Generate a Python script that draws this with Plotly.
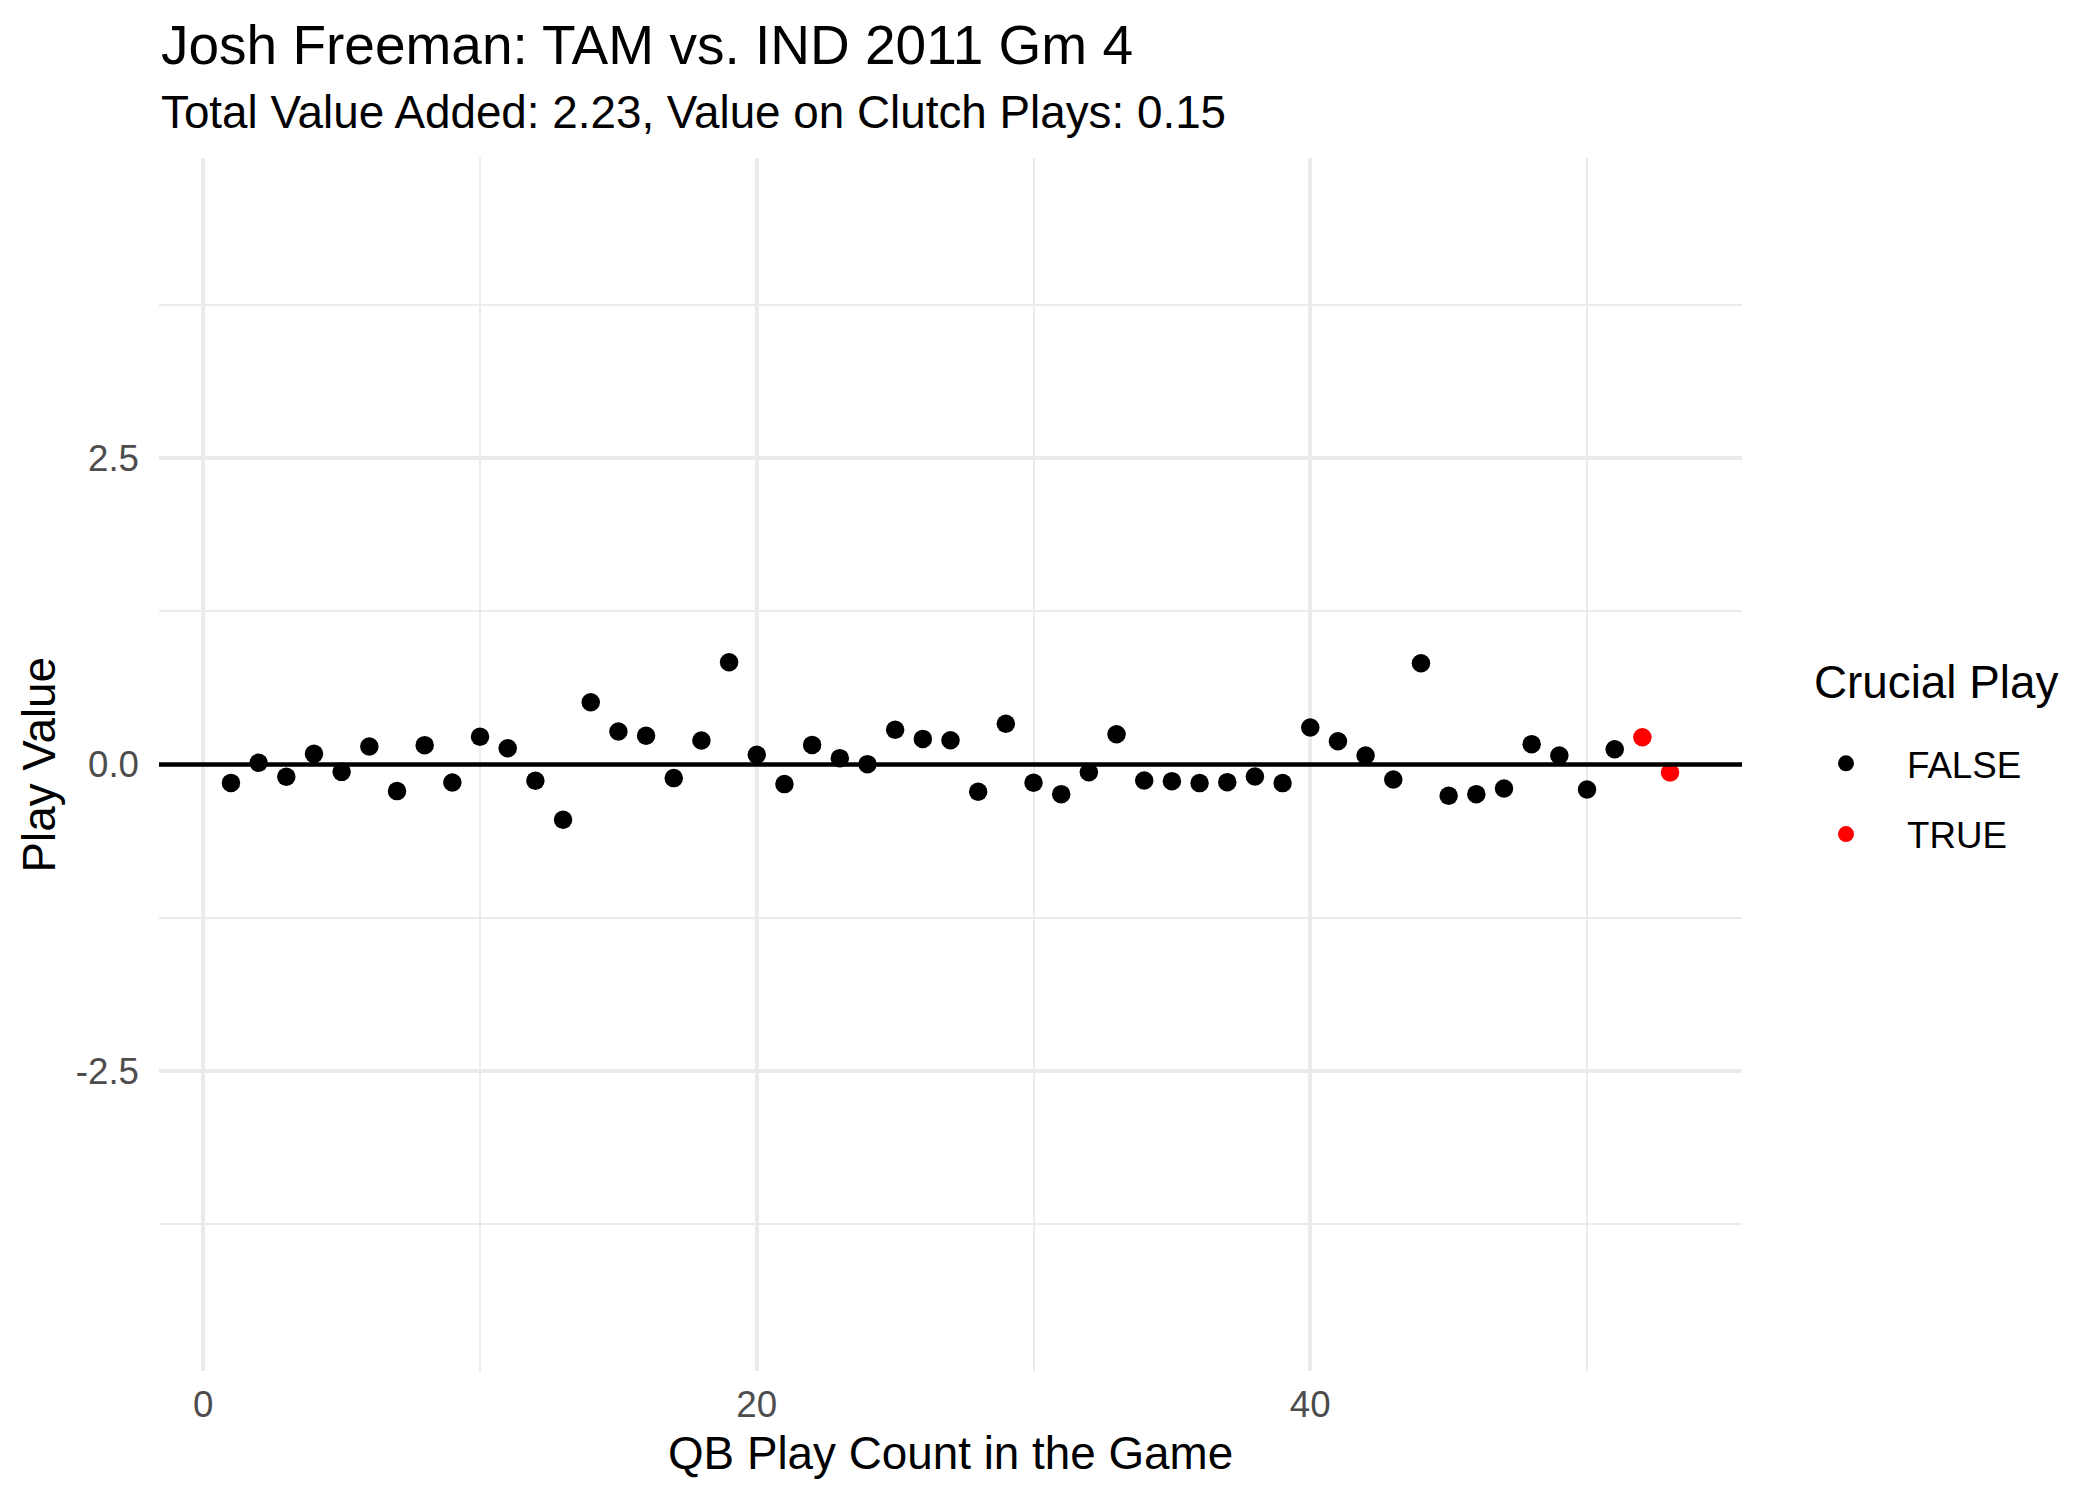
import plotly.graph_objects as go

play_count = list(range(1, 54))
play_value = [
    -0.15, 0.014, -0.10, 0.087, -0.06, 0.147, -0.217, 0.158, -0.147, 0.226,
    0.133, -0.133, -0.451, 0.508, 0.269, 0.234, -0.111, 0.196, 0.834, 0.079,
    -0.160, 0.160, 0.052, 0.003, 0.283, 0.209, 0.198, -0.223, 0.332, -0.149,
    -0.242, -0.063, 0.247, -0.130, -0.136, -0.152, -0.144, -0.098, -0.152, 0.302,
    0.190, 0.073, -0.122, 0.826, -0.255, -0.242, -0.196, 0.166, 0.073, -0.204,
    0.125, 0.223, -0.065,
]
crucial = [False] * 51 + [True, True]

y_tickvals = [-2.5, 0.0, 2.5]
y_ticktext = ["-2.5", "0.0", "2.5"]
x_tickvals = [0, 20, 40]
x_ticktext = ["0", "20", "40"]

title_text = "Josh Freeman: TAM vs. IND 2011 Gm 4"
subtitle_text = "Total Value Added: 2.23, Value on Clutch Plays: 0.15"
x_title = "QB Play Count in the Game"
y_title = "Play Value"
legend_title = "Crucial Play"
groups = [("FALSE", False, "#000000"), ("TRUE", True, "#FF0000")]

FONT = "Liberation Sans, Arial, sans-serif"
W, H = 2100, 1500
L, R, T, B = 159, 358, 158, 129
PW = W - L - R
PH = H - T - B

def py(p):
    return (H - B - p) / PH

def px(p):
    return (p - L) / PW

fig = go.Figure()
for name, flag, color in groups:
    xs = [x for x, c in zip(play_count, crucial) if c == flag]
    ys = [y for y, c in zip(play_value, crucial) if c == flag]
    fig.add_trace(go.Scatter(
        x=xs, y=ys, mode="markers", name=name, legendgroup=name,
        marker=dict(color=color, size=18.5, line=dict(width=0)),
    ))

fig.add_shape(type="line", xref="paper", x0=0, x1=1, yref="y", y0=0, y1=0,
              line=dict(color="black", width=4.7), layer="above")

fig.update_layout(
    width=W, height=H,
    margin=dict(l=L, r=R, t=T, b=B, pad=0),
    paper_bgcolor="white", plot_bgcolor="white",
    font=dict(family=FONT, color="black"),
    showlegend=True,
    legend=dict(
        font=dict(size=36.7, color="black"),
        x=px(1785), xanchor="left", y=py(733), yanchor="top",
        tracegroupgap=20, itemwidth=112,
        bgcolor="rgba(0,0,0,0)",
    ),
    xaxis=dict(
        range=[-1.6, 55.6], tickvals=x_tickvals, ticktext=x_ticktext,
        showgrid=True, gridcolor="#EBEBEB", gridwidth=4.3,
        minor=dict(dtick=10, tick0=0, showgrid=True, gridcolor="#EBEBEB", gridwidth=2.2),
        zeroline=False, showline=False, ticks="",
        tickfont=dict(size=36.7, color="#4D4D4D"),
        ticklabelstandoff=8,
    ),
    yaxis=dict(
        range=[-4.95, 4.95], tickvals=y_tickvals, ticktext=y_ticktext,
        showgrid=True, gridcolor="#EBEBEB", gridwidth=4.3,
        minor=dict(dtick=1.25, tick0=0, showgrid=True, gridcolor="#EBEBEB", gridwidth=2.2),
        zeroline=False, showline=False, ticks="",
        tickfont=dict(size=36.7, color="#4D4D4D"),
        ticklabelstandoff=19,
    ),
    annotations=[
        dict(text=title_text, xref="paper", yref="paper", x=0, y=py(45),
             xanchor="left", yanchor="middle", showarrow=False,
             font=dict(size=55, color="black")),
        dict(text=subtitle_text, xref="paper", yref="paper", x=0, y=py(113),
             xanchor="left", yanchor="middle", showarrow=False,
             font=dict(size=45.8, color="black")),
        dict(text=x_title, xref="paper", yref="paper", x=0.5, y=py(1453),
             xanchor="center", yanchor="middle", showarrow=False,
             font=dict(size=45.8, color="black")),
        dict(text=y_title, xref="paper", yref="paper", x=px(39), y=0.5,
             xanchor="center", yanchor="middle", showarrow=False, textangle=-90,
             font=dict(size=45.8, color="black")),
        dict(text=legend_title, xref="paper", yref="paper", x=px(1812), y=py(682.5),
             xanchor="left", yanchor="middle", showarrow=False,
             font=dict(size=45.8, color="black")),
    ],
)

fig.write_html("out.html")
